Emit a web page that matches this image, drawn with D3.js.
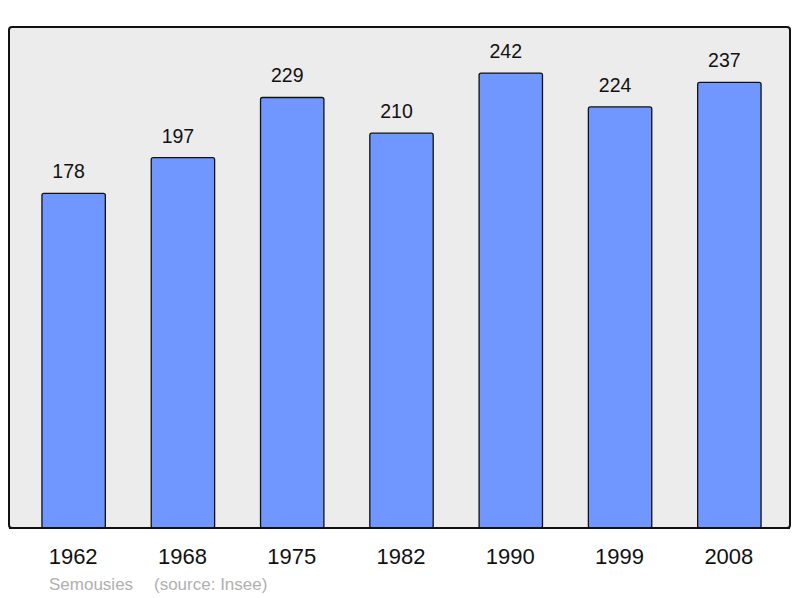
<!DOCTYPE html>
<html>
<head>
<meta charset="utf-8">
<style>
  body { margin: 0; background: #fff; }
  text { font-family: "Liberation Sans", Arial, sans-serif; }
</style>
</head>
<body>
<script src="https://cdn.jsdelivr.net/npm/d3@7/dist/d3.min.js"></script>
<script>
var years = ["1962", "1968", "1975", "1982", "1990", "1999", "2008"];
var population = [178, 197, 229, 210, 242, 224, 237];
var place = "Semousies";
var source = "(source: Insee)";

var width = 800, height = 598;
var svg = d3.select("body").append("svg")
    .attr("width", width)
    .attr("height", height);

// fond du graphique
svg.append("rect")
    .attr("x", 9).attr("y", 27)
    .attr("width", 781).attr("height", 501)
    .attr("rx", 3)
    .style("fill", "#ececec")
    .style("stroke", "#111")
    .style("stroke-width", 2);

var x = d3.scaleBand()
    .domain(years)
    .range([19, 784])
    .paddingInner(0.42)
    .paddingOuter(0.21);

var y = d3.scaleLinear()
    .domain([0, 266.5])
    .range([528, 27]);

var data = years.map(function (d, i) { return { year: d, value: population[i] }; });

svg.selectAll(".bar")
    .data(data)
    .enter()
    .append("rect")
    .attr("class", "bar")
    .attr("x", d => x(d.year))
    .attr("y", d => y(d.value))
    .attr("width", x.bandwidth())
    .attr("height", d => y(0) - y(d.value))
    .attr("rx", 2)
    .style("fill", "#7096ff")
    .style("stroke", "#111")
    .style("stroke-width", 1.3);

svg.selectAll(".val")
    .data(data)
    .enter()
    .append("text")
    .attr("class", "val")
    .attr("x", d => x(d.year) + x.bandwidth() / 2 - 5)
    .attr("y", d => y(d.value) - 15)
    .attr("text-anchor", "middle")
    .style("font-size", "19.5px")
    .style("fill", "#111")
    .text(d => d.value);

// bordure du bas par-dessus les barres
svg.append("line")
    .attr("x1", 9).attr("x2", 790)
    .attr("y1", 528).attr("y2", 528)
    .style("stroke", "#111")
    .style("stroke-width", 2);

svg.selectAll(".year")
    .data(years)
    .enter()
    .append("text")
    .attr("class", "year")
    .attr("x", d => x(d) + x.bandwidth() / 2 - 0.5)
    .attr("y", 564)
    .attr("text-anchor", "middle")
    .style("font-size", "22px")
    .style("fill", "#111")
    .text(d => d);

svg.append("text")
    .attr("x", 49).attr("y", 590)
    .style("font-size", "17px")
    .style("fill", "#b0b0b0")
    .text(place);

svg.append("text")
    .attr("x", 154).attr("y", 590)
    .style("font-size", "17px")
    .style("fill", "#b0b0b0")
    .text(source);
</script>
</body>
</html>
